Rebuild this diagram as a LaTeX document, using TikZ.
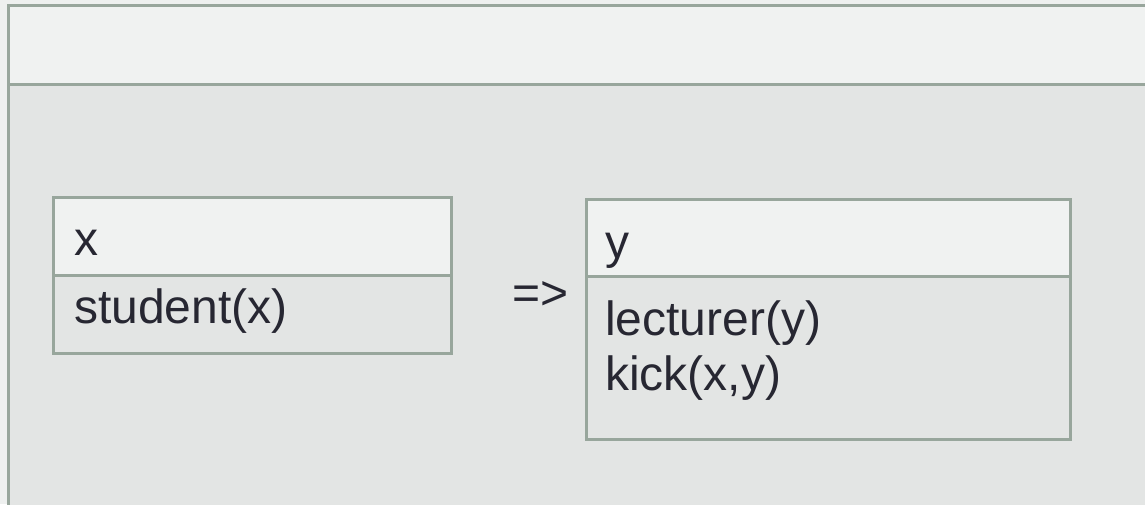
\documentclass[tikz,border=0pt]{standalone}
\usepackage{fontspec}
\setmainfont{Liberation Sans}
\definecolor{bgc}{HTML}{EEF0EF}
\definecolor{headc}{HTML}{F0F2F1}
\definecolor{bodyc}{HTML}{E3E5E4}
\definecolor{linec}{HTML}{98A69C}
\definecolor{textc}{HTML}{272732}
\tikzset{
  comp/.style={draw=linec, line width=3pt, inner sep=0pt, outer sep=0pt},
  headcomp/.style={comp, fill=headc},
  bodycomp/.style={comp, fill=bodyc},
  lbl/.style={anchor=base west, inner sep=0pt, text=textc, font=\fontsize{48}{55}\selectfont},
}
\begin{document}
\begin{tikzpicture}[x=1pt,y=-1pt]
\useasboundingbox (0,0) rectangle (1145,504);
\clip (0,0) rectangle (1145,504);
\fill[bgc] (0,0) rectangle (1145,504);
% outer box
\path[headcomp] (8,5.5) rectangle (1160,84);
\path[bodycomp] (8,84) rectangle (1160,520);
% left box
\node[headcomp, minimum width=398pt, minimum height=78pt, anchor=north west] (xh) at (53,197) {};
\node[bodycomp, minimum width=398pt, minimum height=78pt, anchor=north west] (xb) at (xh.south west) {};
\node[lbl] (xt) at (74,255) {x};
\node[lbl] (xbt) at (74,323) {student(x)};
% arrow text
\node[lbl] (imp) at (512,309) {=>};
% right box
\node[headcomp, minimum width=484pt, minimum height=77pt, anchor=north west] (yh) at (586,199) {};
\node[bodycomp, minimum width=484pt, minimum height=163pt, anchor=north west] (yb) at (yh.south west) {};
\node[lbl] (yt) at (605,258) {y};
\node[lbl] (ybt1) at (605,335) {lecturer(y)};
\node[lbl] (ybt2) at (605,390) {kick(x,y)};
\end{tikzpicture}
\end{document}
